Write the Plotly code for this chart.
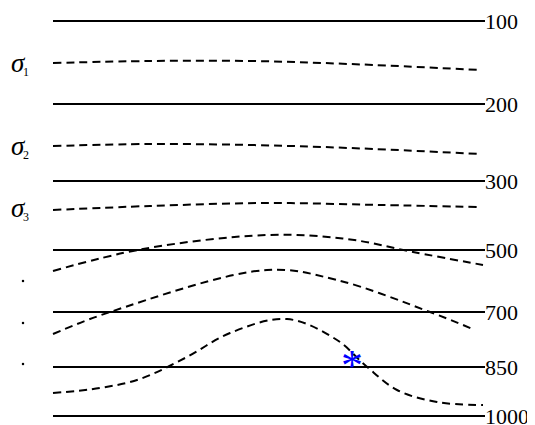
import plotly.graph_objects as go

# pressure levels (hPa) and their vertical positions in the diagram
levels = ["100", "200", "300", "500", "700", "850", "1000"]
level_y = [21, 104, 181, 250, 312, 367, 416]
line_x = [53, 485]

# dashed sigma surfaces (x, y points along each curve)
sigma1_x = [53, 150, 250, 350, 480]
sigma1_y = [63, 61, 61, 64, 70]
sigma2_x = [53, 150, 250, 350, 480]
sigma2_y = [146, 144, 145, 148, 154]
sigma3_x = [53, 150, 267, 380, 480]
sigma3_y = [210, 206, 203, 205, 207]
sigma4_x = [53, 143, 267, 347, 413, 483]
sigma4_y = [271, 249, 235, 239, 252, 265]
sigma5_x = [53, 110, 267, 337, 430, 475]
sigma5_y = [334, 312, 270, 280, 312, 330]
sigma6_x = [53, 100, 140, 187, 230, 287, 337, 366, 397, 437, 483]
sigma6_y = [393, 388, 379, 357, 333, 319, 340, 366, 390, 402, 405]

sigma_labels = ["1", "2", "3"]
sigma_label_y = [63, 146, 208]
dot_y = [281, 323, 364]

star_x = [352]
star_y = [356]

SERIF = "'Liberation Serif', 'Times New Roman', Times, 'DejaVu Serif', serif"

# page body has an 8px margin: shift the drawing area accordingly
OFF = 8

fig = go.Figure()

for y in level_y:
    fig.add_trace(go.Scatter(x=line_x, y=[y, y], mode="lines",
                             line=dict(color="black", width=2), hoverinfo="skip"))

for xs, ys in [(sigma1_x, sigma1_y), (sigma2_x, sigma2_y), (sigma3_x, sigma3_y),
               (sigma4_x, sigma4_y), (sigma5_x, sigma5_y), (sigma6_x, sigma6_y)]:
    fig.add_trace(go.Scatter(x=xs, y=ys, mode="lines", line_shape="spline",
                             line=dict(color="black", width=2, dash="8px,5px"),
                             hoverinfo="skip"))

# level labels
for lab, y in zip(levels, level_y):
    fig.add_annotation(x=line_x[1], y=y, text=lab, showarrow=False,
                       font=dict(family=SERIF, size=22, color="black"),
                       xanchor="left", yanchor="middle", xshift=-2)

# sigma labels
for lab, y in zip(sigma_labels, sigma_label_y):
    fig.add_annotation(x=18, y=y, text="<i>σ</i>", showarrow=False,
                       font=dict(family=SERIF, size=27, color="black"),
                       xanchor="center", yanchor="middle")
    fig.add_annotation(x=26, y=y + 9, text=lab, showarrow=False,
                       font=dict(family=SERIF, size=12, color="black"),
                       xanchor="center", yanchor="middle")

# dots
fig.add_trace(go.Scatter(x=[23] * len(dot_y), y=dot_y, mode="markers",
                         marker=dict(color="black", size=2.5), hoverinfo="skip"))

# asterisk
for sx, sy in zip(star_x, star_y):
    fig.add_annotation(x=sx, y=sy, text="*", showarrow=False,
                       font=dict(family=SERIF, size=44, color="#0000FF"),
                       xanchor="center", yanchor="middle", yshift=-9)

fig.update_layout(
    width=535 - OFF, height=425 - OFF, margin=dict(l=0, r=0, t=0, b=0),
    paper_bgcolor="white", plot_bgcolor="white", showlegend=False,
    xaxis=dict(range=[OFF, 535], visible=False, fixedrange=True),
    yaxis=dict(range=[425, OFF], visible=False, fixedrange=True),
)

fig.write_html("out.html")
